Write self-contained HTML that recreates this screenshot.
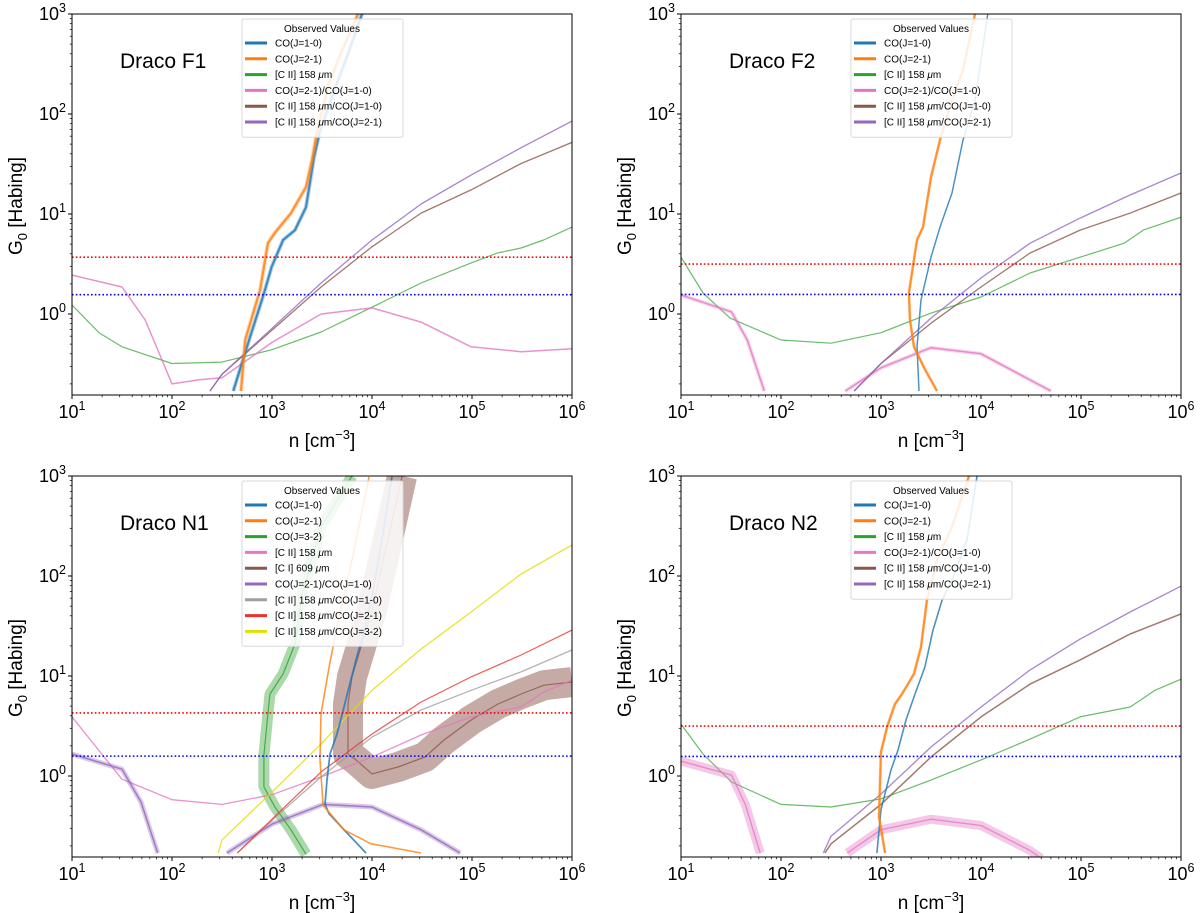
<!DOCTYPE html>
<html><head><meta charset="utf-8">
<style>
html,body{margin:0;padding:0;background:#fff;}
svg{display:block;font-family:"Liberation Sans","DejaVu Sans",sans-serif;}
</style></head>
<body>
<svg id="fig" width="1200" height="913" viewBox="0 0 1200 913" xmlns="http://www.w3.org/2000/svg"></svg>
<script>
// ---------- Draco F1 ----------
const f1_co10_n=[410,590,830,990,1290,1700,2190,2630,2990,4070,5750,7940];
const f1_co10_g=[0.17,0.55,1.6,2.95,5.5,6.9,11.7,37,65,160,400,1000];
const f1_co21_n=[490,540,760,910,1070,1550,2190,2510,2880,3720,4900,7240];
const f1_co21_g=[0.17,0.55,1.74,5.1,6.5,10.2,18.6,34.7,74,204,407,1000];
const f1_cii_n=[10,18.6,31.6,100,316,1000,3100,10000,31000,98000,180000,310000,520000,1e6];
const f1_cii_g=[1.23,0.65,0.47,0.32,0.33,0.44,0.66,1.17,2.04,3.24,4.07,4.57,5.5,7.4];
const f1_r21_n=[10,31.6,54,100,186,316,1000,3100,10000,31000,98000,310000,1e6];
const f1_r21_g=[2.45,1.86,0.87,0.2,0.22,0.23,0.52,1.0,1.15,0.83,0.47,0.42,0.45];
const f1_ciico10_n=[240,316,1000,3100,10000,31000,98000,310000,1e6];
const f1_ciico10_g=[0.17,0.25,0.69,1.86,4.7,10.2,17.4,32,52];
const f1_ciico21_n=[240,316,1000,3100,10000,31000,98000,310000,1e6];
const f1_ciico21_g=[0.17,0.25,0.72,2.04,5.5,12.6,24.5,46,85];
const f1_obs=[3.7,1.56];
// ---------- Draco F2 ----------
const f2_co10_n=[2400,2290,2510,3160,3890,5130,6610,8710,10000,11700];
const f2_co10_g=[0.17,0.47,1.38,3.7,7.4,16.2,55,138,347,1000];
const f2_co21_n=[3630,2750,2140,1950,1900,2290,2630,3160,3890,5130,6610,8710];
const f2_co21_g=[0.17,0.28,0.47,0.87,1.62,5.5,7.4,23.4,55,138,275,1000];
const f2_cii_n=[10,16.6,31,100,316,1000,3160,10000,31000,98000,270000,420000,1e6];
const f2_cii_g=[3.7,1.62,0.91,0.55,0.51,0.65,1.02,1.48,2.57,3.7,5.1,6.9,9.3];
const f2_r21_n=[10,32,46,68,null,440,1000,3160,10000,50000];
const f2_r21_g=[1.55,1.05,0.55,0.17,null,0.17,0.29,0.46,0.4,0.17];
const f2_ciico10_n=[540,1000,3160,10000,31000,98000,310000,1e6];
const f2_ciico10_g=[0.17,0.32,0.81,1.86,4.07,6.9,10.2,16.2];
const f2_ciico21_n=[540,1000,3160,10000,31000,98000,310000,1e6];
const f2_ciico21_g=[0.17,0.32,0.91,2.29,5.1,9.1,15.5,25.7];
const f2_obs=[3.16,1.57];
// ---------- Draco N1 ----------
const n1_co10_n=[8700,5250,3720,3390,3550,3800,4470,5250,6920,8910,11700,15800];
const n1_co10_g=[0.17,0.29,0.42,0.52,0.91,1.66,2.63,4.9,14.5,36,145,980];
const n1_co21_n=[31000,9800,5250,3240,3020,3090,3720,4470,6310,9330];
const n1_co21_g=[0.17,0.21,0.29,0.51,1.45,4.2,12.3,31,145,980];
const n1_co32_n=[2190,1550,1070,830,830,910,955,1290,1700,2000,3090,6310];
const n1_co32_g=[0.165,0.29,0.49,0.78,1.62,4.17,6.6,10.5,20.9,66,309,1000];
const n1_cii_n=[10,31.6,100,316,1000,3100,10000,31000,98000,310000,520000,1e6];
const n1_cii_g=[3.9,0.93,0.58,0.52,0.65,0.98,1.55,2.57,3.9,4.9,6.9,9.1];
const n1_ci_n=[20000,14100,10000,6310,5750,5750,6920,10000,18200,33900,52500,98000,182000,310000,525000,1e6];
const n1_ci_g=[1000,209,45.7,9.8,5.25,1.66,1.45,1.05,1.23,1.55,2.29,3.63,5.25,6.6,8.1,8.7];
const n1_r21_n=[10,31.6,49,72,null,355,1000,3240,10000,31000,76000];
const n1_r21_g=[1.66,1.17,0.55,0.17,null,0.17,0.33,0.52,0.49,0.29,0.17];
const n1_ciico10_n=[450,1000,3100,10000,31000,98000,310000,1e6];
const n1_ciico10_g=[0.17,0.36,0.98,2.45,4.57,7.2,11,18.2];
const n1_ciico21_n=[450,1000,3100,10000,31000,98000,310000,1e6];
const n1_ciico21_g=[0.17,0.37,1.1,2.63,5.5,9.8,16.2,28.8];
const n1_ciico32_n=[290,316,1000,3100,10000,31000,98000,310000,1e6];
const n1_ciico32_g=[0.17,0.23,0.69,2.1,7.2,18.6,43.7,105,204];
const n1_obs=[4.27,1.58];
// ---------- Draco N2 ----------
const n2_co10_n=[910,1000,1260,1480,1780,2190,2750,3310,4070,5130,7240,9120];
const n2_co10_g=[0.17,0.46,1.15,1.82,3.63,6.6,12.3,28.8,57,91,229,1000];
const n2_co21_n=[1100,955,1000,1150,1380,1620,2140,2510,2880,3630,5130,7590];
const n2_co21_g=[0.17,0.39,1.74,3.1,5.25,6.6,10.5,19.5,57,145,309,1000];
const n2_cii_n=[10,16.6,32,100,316,1000,3160,10000,31000,98000,310000,550000,1e6];
const n2_cii_g=[3.3,1.66,0.87,0.52,0.49,0.59,0.91,1.45,2.34,3.9,4.9,7.2,9.3];
const n2_r21_n=[10,32,44,62,null,460,1000,3160,10000,31000,40000];
const n2_r21_g=[1.41,1.02,0.52,0.17,null,0.17,0.29,0.37,0.32,0.18,0.15];
const n2_ciico10_n=[275,316,1000,3160,10000,31000,98000,310000,1e6];
const n2_ciico10_g=[0.17,0.21,0.52,1.55,3.9,8.3,14.5,26.3,41.7];
const n2_ciico21_n=[265,316,1000,3160,10000,31000,98000,310000,1e6];
const n2_ciico21_g=[0.17,0.25,0.66,1.95,4.9,11.5,23.4,43.7,79];
const n2_obs=[3.16,1.57];

const xTickLabels=["1","2","3","4","5","6"];
const yTickLabels=["0","1","2","3"];

const NS="http://www.w3.org/2000/svg";
const svg=document.getElementById('fig');
const XMIN=1,XMAX=6,YMIN=-0.81,YMAX=3;
const C={blue:"#1f77b4",orange:"#ff7f0e",green:"#2ca02c",pink:"#e377c2",brown:"#8c564b",purple:"#9467bd",gray:"#a0a0a0",red:"#e8332f",yellow:"#e0e000"};

function mk(tag,attrs,parent){const e=document.createElementNS(NS,tag);for(const k in attrs)e.setAttribute(k,attrs[k]);(parent||svg).appendChild(e);return e;}

function panel(key,x0,y0,title,series,legend,obs){
  const W=500,H=381;
  const sx=v=>x0+(Math.log10(v)-XMIN)/(XMAX-XMIN)*W;
  const sy=v=>y0+(YMAX-Math.log10(v))/(YMAX-YMIN)*H;
  const g=mk('g',{});
  
  
  const cp=mk('clipPath',{id:'clip-'+key},g);
  mk('rect',{x:x0,y:y0,width:W,height:H},cp);
  const plot=mk('g',{'clip-path':'url(#clip-'+key+')'},g);
  
  
  series.forEach(s=>{
    let d="",pen=false;
    for(let i=0;i<s.n.length;i++){
      if(s.n[i]===null){pen=false;continue;}
      d+=(pen?"L":"M")+sx(s.n[i]).toFixed(1)+","+sy(s.g[i]).toFixed(1);pen=true;
    }
    if(s.band){
      const b=mk('path',{d:d,fill:'none',stroke:s.c,'stroke-width':s.band,'stroke-opacity':s.bo||0.4,'stroke-linejoin':'round','stroke-linecap':'butt'},plot);
      
      
    }
    const p=mk('path',{d:d,fill:'none',stroke:s.c,'stroke-width':s.w,'stroke-opacity':s.o||0.8,'stroke-linejoin':'round'},plot);
    
    
  });
  const r=mk('line',{x1:x0,x2:x0+W,y1:sy(obs[0]),y2:sy(obs[0]),stroke:'#ff0000','stroke-width':1.6,'stroke-dasharray':'1.6,2.2'},g);
  
  
  const bl=mk('line',{x1:x0,x2:x0+W,y1:sy(obs[1]),y2:sy(obs[1]),stroke:'#0000ff','stroke-width':1.6,'stroke-dasharray':'1.6,2.2'},g);
  
  
  const fr=mk('rect',{x:x0,y:y0,width:W,height:H,fill:'none',stroke:'#000','stroke-width':1},g);
  
  
  for(let e=XMIN;e<=XMAX;e++){
    const X=sx(Math.pow(10,e));
    mk('line',{x1:X,x2:X,y1:y0+H,y2:y0+H+4,stroke:'#000','stroke-width':1},g);
    if(e<XMAX)for(let m=2;m<10;m++){const xm=sx(m*Math.pow(10,e));mk('line',{x1:xm,x2:xm,y1:y0+H,y2:y0+H+2.2,stroke:'#000','stroke-width':0.7},g);}
  }
  xTickLabels.forEach((lab,i)=>{
    const X=sx(Math.pow(10,Number(lab)));
    const t=mk('text',{x:X,y:y0+H+23,'font-size':18,'text-anchor':'middle'},g);
    
    
    t.innerHTML='10<tspan dy="-8" font-size="12.5">'+lab+'</tspan>';
  });
  for(let e=-1;e<=3;e++){
    if(e>=0){const Y=sy(Math.pow(10,e));mk('line',{x1:x0-4,x2:x0,y1:Y,y2:Y,stroke:'#000','stroke-width':1},g);}
    if(e<3)for(let m=2;m<10;m++){const v=m*Math.pow(10,e);if(Math.log10(v)<YMIN)continue;const ym=sy(v);mk('line',{x1:x0-2.2,x2:x0,y1:ym,y2:ym,stroke:'#000','stroke-width':0.7},g);}
  }
  yTickLabels.forEach(lab=>{
    const Y=sy(Math.pow(10,Number(lab)));
    const t=mk('text',{x:x0-6,y:Y+6,'font-size':18,'text-anchor':'end'},g);
    
    
    t.innerHTML='10<tspan dy="-8" font-size="12.5">'+lab+'</tspan>';
  });
  const xl=mk('text',{x:x0+W/2,y:y0+H+52,'font-size':19,'text-anchor':'middle'},g);
  
  
  xl.innerHTML='n [cm<tspan dy="-8" font-size="13">−3</tspan><tspan dy="8">]</tspan>';
  const yl=mk('text',{x:0,y:0,'font-size':19,'text-anchor':'middle',transform:'translate('+(x0-50)+','+(y0+192)+') rotate(-90)'},g);
  
  
  yl.innerHTML='G<tspan dy="5" font-size="13">0</tspan><tspan dy="-5"> [Habing]</tspan>';
  const tt=mk('text',{x:x0+48,y:y0+54,'font-size':21},g);
  
  
  tt.textContent=title;
  const lg=mk('g',{},g);
  
  
  const lx=x0+170,ly=y0+5,lh=24+legend.length*15.7;
  mk('rect',{x:lx,y:ly,width:161,height:lh,fill:'#fff','fill-opacity':0.85,stroke:'#d8d8d8','stroke-width':1,rx:2},lg);
  const lt=mk('text',{x:lx+80,y:ly+13,'font-size':10,'text-anchor':'middle'},lg);
  
  
  lt.textContent='Observed Values';
  legend.forEach((it,i)=>{
    const Y=ly+24+i*15.8;
    const ln=mk('line',{x1:lx+3,x2:lx+25,y1:Y,y2:Y,stroke:it[1],'stroke-width':3},lg);
    
    
    const t=mk('text',{x:lx+33,y:Y+3.5,'font-size':10},lg);
    
    
    t.innerHTML=it[0];
  });
}
const mu='<tspan font-style="italic">μ</tspan>m';
const L6=[["CO(J=1-0)",C.blue],["CO(J=2-1)",C.orange],["[C II] 158 "+mu,C.green],["CO(J=2-1)/CO(J=1-0)",C.pink],["[C II] 158 "+mu+"/CO(J=1-0)",C.brown],["[C II] 158 "+mu+"/CO(J=2-1)",C.purple]];

panel('draco-f1',72,14,'Draco F1',[
 {name:'cii',n:f1_cii_n,g:f1_cii_g,c:C.green,w:1.2,o:0.7},
 {name:'co21-co10-ratio',n:f1_r21_n,g:f1_r21_g,c:C.pink,w:1.5,o:0.8},
 {name:'cii-co10-ratio',n:f1_ciico10_n,g:f1_ciico10_g,c:C.brown,w:1.3},
 {name:'cii-co21-ratio',n:f1_ciico21_n,g:f1_ciico21_g,c:C.purple,w:1.3},
 {name:'co10',n:f1_co10_n,g:f1_co10_g,c:C.blue,w:2,band:4,bo:0.35},
 {name:'co21',n:f1_co21_n,g:f1_co21_g,c:C.orange,w:2,band:4,bo:0.35}
],L6,f1_obs);

panel('draco-f2',681,14,'Draco F2',[
 {name:'cii',n:f2_cii_n,g:f2_cii_g,c:C.green,w:1.2,o:0.7},
 {name:'co21-co10-ratio',n:f2_r21_n,g:f2_r21_g,c:C.pink,w:1.5,band:4,bo:0.3},
 {name:'cii-co10-ratio',n:f2_ciico10_n,g:f2_ciico10_g,c:C.brown,w:1.3},
 {name:'cii-co21-ratio',n:f2_ciico21_n,g:f2_ciico21_g,c:C.purple,w:1.3},
 {name:'co10',n:f2_co10_n,g:f2_co10_g,c:C.blue,w:1.5},
 {name:'co21',n:f2_co21_n,g:f2_co21_g,c:C.orange,w:2,band:3,bo:0.35}
],L6,f2_obs);

panel('draco-n1',72,476,'Draco N1',[
 {name:'ci-609',n:n1_ci_n,g:n1_ci_g,c:C.brown,w:1.2,band:30,bo:0.5},
 {name:'co32',n:n1_co32_n,g:n1_co32_g,c:C.green,w:1.2,band:11,bo:0.4},
 {name:'cii',n:n1_cii_n,g:n1_cii_g,c:C.pink,w:1.3,o:0.8},
 {name:'co21-co10-ratio',n:n1_r21_n,g:n1_r21_g,c:C.purple,w:1.5,band:5,bo:0.35},
 {name:'cii-co10-ratio',n:n1_ciico10_n,g:n1_ciico10_g,c:C.gray,w:1.3},
 {name:'cii-co21-ratio',n:n1_ciico21_n,g:n1_ciico21_g,c:C.red,w:1.2},
 {name:'cii-co32-ratio',n:n1_ciico32_n,g:n1_ciico32_g,c:C.yellow,w:1.3},
 {name:'co10',n:n1_co10_n,g:n1_co10_g,c:C.blue,w:1.8},
 {name:'co21',n:n1_co21_n,g:n1_co21_g,c:C.orange,w:1.6}
],[["CO(J=1-0)",C.blue],["CO(J=2-1)",C.orange],["CO(J=3-2)",C.green],["[C II] 158 "+mu,C.pink],["[C I] 609 "+mu,C.brown],["CO(J=2-1)/CO(J=1-0)",C.purple],["[C II] 158 "+mu+"/CO(J=1-0)",C.gray],["[C II] 158 "+mu+"/CO(J=2-1)",C.red],["[C II] 158 "+mu+"/CO(J=3-2)",C.yellow]],n1_obs);

panel('draco-n2',681,476,'Draco N2',[
 {name:'cii',n:n2_cii_n,g:n2_cii_g,c:C.green,w:1.2,o:0.7},
 {name:'co21-co10-ratio',n:n2_r21_n,g:n2_r21_g,c:C.pink,w:1.3,band:9,bo:0.4},
 {name:'cii-co10-ratio',n:n2_ciico10_n,g:n2_ciico10_g,c:C.brown,w:1.5},
 {name:'cii-co21-ratio',n:n2_ciico21_n,g:n2_ciico21_g,c:C.purple,w:1.3},
 {name:'co10',n:n2_co10_n,g:n2_co10_g,c:C.blue,w:1.6},
 {name:'co21',n:n2_co21_n,g:n2_co21_g,c:C.orange,w:2,band:3,bo:0.35}
],L6,n2_obs);
</script>
</body></html>
